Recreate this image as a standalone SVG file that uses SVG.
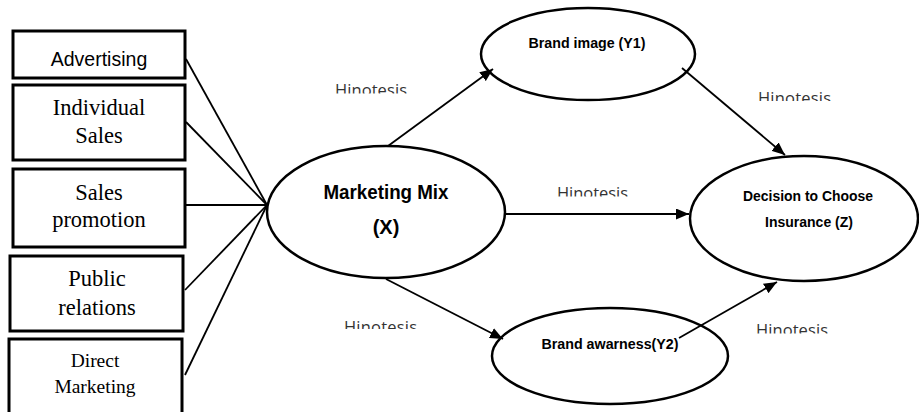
<svg xmlns="http://www.w3.org/2000/svg" width="919" height="412" viewBox="0 0 919 412">
<style>
.box{fill:#fff;stroke:#000;stroke-width:3}
.ell{fill:#fff;stroke:#000;stroke-width:2.5}
.ln{fill:none;stroke:#000;stroke-width:1.8}
.arr{fill:none;stroke:#000;stroke-width:1.8;marker-end:url(#ah)}
.sans{font-family:"Liberation Sans",Arial,sans-serif;fill:#000;text-anchor:middle}
.b{font-weight:bold}
.serif{font-family:"Liberation Serif","Times New Roman",serif;fill:#000;text-anchor:middle}
.hip{font-family:"Open Sans","DejaVu Sans",sans-serif;font-size:16.5px;fill:#333}
</style>
<defs>
<marker id="ah" markerUnits="userSpaceOnUse" markerWidth="13" markerHeight="11" refX="13" refY="5.5" orient="auto">
<path d="M0,0 L13,5.5 L0,11 z" fill="#000"/>
</marker>
<clipPath id="c1"><rect x="330" y="80" width="90" height="13.5"/></clipPath>
<clipPath id="c2"><rect x="750" y="88" width="90" height="13"/></clipPath>
<clipPath id="c3"><rect x="550" y="183" width="90" height="13.5"/></clipPath>
<clipPath id="c4"><rect x="338" y="316" width="90" height="13"/></clipPath>
<clipPath id="c5"><rect x="750" y="320" width="90" height="13.5"/></clipPath>
</defs>
<rect width="919" height="412" fill="#fff"/>

<g id="connectors">
<line class="ln" x1="186" y1="59" x2="267" y2="205"/>
<line class="ln" x1="186" y1="122" x2="267" y2="205"/>
<line class="ln" x1="186" y1="205" x2="267" y2="205"/>
<line class="ln" x1="185" y1="290" x2="267" y2="205"/>
<line class="ln" x1="185" y1="375" x2="267" y2="205"/>
</g>

<g id="box-advertising">
<rect class="box" x="13" y="31" width="172" height="47"/>
<text class="sans" x="99" y="66" font-size="19.5">Advertising</text>
</g>
<g id="box-individual-sales">
<rect class="box" x="13" y="85" width="172" height="75"/>
<text class="serif" x="99" y="115" font-size="22.5">Individual</text>
<text class="serif" x="99" y="143" font-size="22.5">Sales</text>
</g>
<g id="box-sales-promotion">
<rect class="box" x="13" y="169" width="172" height="78"/>
<text class="serif" x="99" y="200" font-size="22.5">Sales</text>
<text class="serif" x="99" y="227" font-size="22.5">promotion</text>
</g>
<g id="box-public-relations">
<rect class="box" x="10" y="256" width="173" height="75"/>
<text class="serif" x="97" y="286" font-size="22.5">Public</text>
<text class="serif" x="97" y="315" font-size="22.5">relations</text>
</g>
<g id="box-direct-marketing">
<rect class="box" x="9" y="339" width="173" height="80"/>
<text class="serif" x="95" y="367" font-size="19.5">Direct</text>
<text class="serif" x="95" y="393" font-size="19.5">Marketing</text>
</g>

<g id="marketing-mix">
<ellipse class="ell" cx="386" cy="212" rx="119" ry="66"/>
<text class="sans b" x="386" y="199" font-size="20" textLength="125" lengthAdjust="spacingAndGlyphs">Marketing Mix</text>
<text class="sans b" x="386" y="234" font-size="20">(X)</text>
</g>
<g id="brand-image">
<ellipse class="ell" cx="588" cy="54" rx="107" ry="46"/>
<text class="sans b" x="587" y="48" font-size="15" textLength="117" lengthAdjust="spacingAndGlyphs">Brand image (Y1)</text>
</g>
<g id="brand-awareness">
<ellipse class="ell" cx="610" cy="356" rx="118" ry="48"/>
<text class="sans b" x="610" y="349" font-size="14.6" textLength="137" lengthAdjust="spacingAndGlyphs">Brand awarness(Y2)</text>
</g>
<g id="decision">
<ellipse class="ell" cx="804" cy="218.5" rx="114" ry="62.5"/>
<text class="sans b" x="808" y="201" font-size="15" textLength="130" lengthAdjust="spacingAndGlyphs">Decision to Choose</text>
<text class="sans b" x="809" y="227" font-size="15" textLength="88" lengthAdjust="spacingAndGlyphs">Insurance (Z)</text>
</g>

<g id="arrows">
<line class="arr" x1="388" y1="146" x2="493" y2="69"/>
<line class="arr" x1="682" y1="68" x2="785" y2="155"/>
<line class="arr" x1="505" y1="214" x2="689" y2="214"/>
<line class="arr" x1="386" y1="279" x2="503" y2="339"/>
<line class="arr" x1="679" y1="338" x2="777" y2="282"/>
</g>

<g id="labels">
<text class="hip" x="335" y="95.5" textLength="72" clip-path="url(#c1)">Hinotesis</text>
<text class="hip" x="758" y="103.5" textLength="73" clip-path="url(#c2)">Hinotesis</text>
<text class="hip" x="557" y="198.5" textLength="71" clip-path="url(#c3)">Hinotesis</text>
<text class="hip" x="344" y="332.5" textLength="73" clip-path="url(#c4)">Hinotesis</text>
<text class="hip" x="756" y="335.5" textLength="72" clip-path="url(#c5)">Hinotesis</text>
</g>
</svg>
